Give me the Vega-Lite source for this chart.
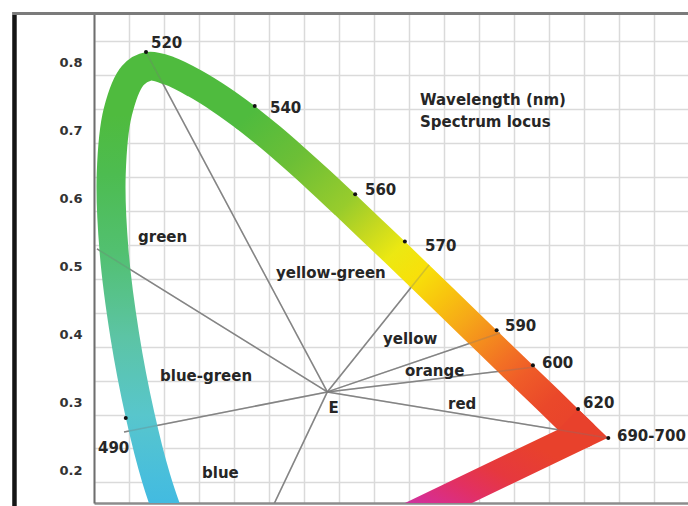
{
  "$schema": "https://vega.github.io/schema/vega-lite/v6.json",
  "width": 596,
  "height": 490,
  "autosize": {"type": "none"},
  "padding": {"left": 94, "top": 13, "right": 0, "bottom": 3},
  "background": "white",
  "config": {"view": {"stroke": null}, "font": "DejaVu Sans"},
  "datasets": {
    "frameTop": [{"x": -0.117, "x2": 0.86, "y": 0.8906}],
    "frameLeft": [{"x": -0.1136, "y": 0.8884, "y2": 0.1594}],
    "rays": [
      {"x": 0.3333, "y": 0.3333, "x2": 0.0743, "y2": 0.8338},
      {"x": 0.3333, "y": 0.3333, "x2": 0.0043, "y2": 0.5440},
      {"x": 0.3333, "y": 0.3333, "x2": 0.0429, "y2": 0.2742},
      {"x": 0.3333, "y": 0.3333, "x2": 0.2327, "y2": 0.1152},
      {"x": 0.3333, "y": 0.3333, "x2": 0.4786, "y2": 0.5202},
      {"x": 0.3333, "y": 0.3333, "x2": 0.5800, "y2": 0.4201},
      {"x": 0.3333, "y": 0.3333, "x2": 0.6300, "y2": 0.3700},
      {"x": 0.3333, "y": 0.3333, "x2": 0.7347, "y2": 0.2653}
    ],
    "bandA": [
      {"o": 1, "x": 0.1287, "y": 0.0948},
      {"o": 2, "x": 0.1109, "y": 0.1396},
      {"o": 3, "x": 0.0886, "y": 0.2068},
      {"o": 4, "x": 0.0657, "y": 0.2996},
      {"o": 5, "x": 0.0440, "y": 0.4161},
      {"o": 6, "x": 0.0287, "y": 0.5402},
      {"o": 7, "x": 0.0246, "y": 0.6542},
      {"o": 8, "x": 0.0340, "y": 0.7455},
      {"o": 9, "x": 0.0554, "y": 0.7993},
      {"o": 10, "x": 0.0780, "y": 0.8128},
      {"o": 11, "x": 0.1076, "y": 0.8060},
      {"o": 12, "x": 0.1447, "y": 0.7872},
      {"o": 13, "x": 0.1813, "y": 0.7638},
      {"o": 14, "x": 0.2167, "y": 0.7377}
    ],
    "bandC": [
      {"o": 1, "x": 0.2167, "y": 0.7377},
      {"o": 2, "x": 0.2524, "y": 0.7081},
      {"o": 3, "x": 0.2879, "y": 0.6763},
      {"o": 4, "x": 0.3234, "y": 0.6432},
      {"o": 5, "x": 0.3590, "y": 0.6088},
      {"o": 6, "x": 0.3944, "y": 0.5741},
      {"o": 7, "x": 0.4299, "y": 0.5392},
      {"o": 8, "x": 0.4644, "y": 0.5049},
      {"o": 9, "x": 0.4981, "y": 0.4713},
      {"o": 10, "x": 0.5304, "y": 0.4390},
      {"o": 11, "x": 0.5607, "y": 0.4088},
      {"o": 12, "x": 0.5884, "y": 0.3811},
      {"o": 13, "x": 0.6126, "y": 0.3571},
      {"o": 14, "x": 0.6514, "y": 0.3187},
      {"o": 15, "x": 0.6771, "y": 0.2929},
      {"o": 16, "x": 0.6984, "y": 0.2717}
    ],
    "bandD": [
      {"o": 1, "x": 0.6771, "y": 0.2929},
      {"o": 2, "x": 0.6984, "y": 0.2717},
      {"o": 3, "x": 0.3896, "y": 0.1190}
    ],
    "dots": [
      {"x": 0.0743, "y": 0.8338},
      {"x": 0.2296, "y": 0.7543},
      {"x": 0.3731, "y": 0.6245},
      {"x": 0.4441, "y": 0.5547},
      {"x": 0.5752, "y": 0.4242},
      {"x": 0.6270, "y": 0.3725},
      {"x": 0.6915, "y": 0.3083},
      {"x": 0.7347, "y": 0.2653},
      {"x": 0.0454, "y": 0.2950}
    ],
    "labels": [
      {"t": "520", "x": 0.0814, "y": 0.8471},
      {"t": "540", "x": 0.2514, "y": 0.7514},
      {"t": "560", "x": 0.3871, "y": 0.6306},
      {"t": "570", "x": 0.4729, "y": 0.5482},
      {"t": "590", "x": 0.5871, "y": 0.4302},
      {"t": "600", "x": 0.6400, "y": 0.3759},
      {"t": "620", "x": 0.6986, "y": 0.3169},
      {"t": "690-700", "x": 0.7471, "y": 0.2683},
      {"t": "490", "x": 0.0057, "y": 0.2507},
      {"t": "green", "x": 0.0629, "y": 0.5614},
      {"t": "yellow-green", "x": 0.2600, "y": 0.5084},
      {"t": "yellow", "x": 0.4129, "y": 0.4112},
      {"t": "orange", "x": 0.4443, "y": 0.3641},
      {"t": "red", "x": 0.5057, "y": 0.3155},
      {"t": "blue-green", "x": 0.0943, "y": 0.3567},
      {"t": "blue", "x": 0.1543, "y": 0.2138},
      {"t": "E", "x": 0.3350, "y": 0.3096},
      {"t": "Wavelength (nm)", "x": 0.4657, "y": 0.7632},
      {"t": "Spectrum locus", "x": 0.4657, "y": 0.7308}
    ]
  },
  "encoding": {
    "x": {
      "field": "x", "type": "quantitative",
      "scale": {"domain": [0, 0.85143], "nice": false, "zero": false},
      "axis": {
        "values": [0, 0.05, 0.1, 0.15, 0.2, 0.25, 0.3, 0.35, 0.4, 0.45, 0.5, 0.55, 0.6, 0.65, 0.7, 0.75, 0.8, 0.85],
        "grid": true, "gridColor": "#dadada", "gridWidth": 1.5,
        "labels": false, "ticks": false, "tickSize": 0,
        "domain": true, "domainColor": "#8c8c8c", "domainWidth": 2.5,
        "title": null
      }
    },
    "y": {
      "field": "y", "type": "quantitative",
      "scale": {"domain": [0.1697, 0.8913], "nice": false, "zero": false},
      "axis": {
        "values": [0.2, 0.25, 0.3, 0.35, 0.4, 0.45, 0.5, 0.55, 0.6, 0.65, 0.7, 0.75, 0.8, 0.85],
        "grid": true, "gridColor": "#dadada", "gridWidth": 1.5,
        "ticks": false, "tickSize": 0,
        "domain": true, "domainColor": "#6e6e6e", "domainWidth": 2,
        "labelExpr": "abs(datum.value * 10 - round(datum.value * 10)) < 0.001 ? format(datum.value, '.1f') : ''",
        "labelOffset": -12, "labelPadding": 12, "labelOverlap": false,
        "labelFont": "DejaVu Sans", "labelFontWeight": "bold", "labelFontSize": 13, "labelColor": "#333333",
        "title": null
      }
    }
  },
  "layer": [
    {
      "data": {"name": "frameTop"},
      "mark": {"type": "rule", "color": "#7b7b7b", "strokeWidth": 3, "clip": false},
      "encoding": {"x2": {"field": "x2"}}
    },
    {
      "data": {"name": "frameLeft"},
      "mark": {"type": "rule", "color": "#151515", "strokeWidth": 4.5, "clip": false},
      "encoding": {"y2": {"field": "y2"}}
    },
    {
      "data": {"name": "rays"},
      "mark": {"type": "rule", "color": "#8a8a8a", "strokeWidth": 1.5, "clip": true},
      "encoding": {"x2": {"field": "x2"}, "y2": {"field": "y2"}}
    },
    {
      "data": {"name": "bandA"},
      "mark": {
        "type": "line", "clip": true, "interpolate": "catmull-rom", "strokeWidth": 29, "strokeCap": "round", "strokeJoin": "round",
        "stroke": {
          "gradient": "linear", "x1": 0, "y1": 1, "x2": 0, "y2": 0,
          "stops": [
            {"offset": 0, "color": "#35b0e8"},
            {"offset": 0.062, "color": "#3eb8e4"},
            {"offset": 0.156, "color": "#48bedc"},
            {"offset": 0.285, "color": "#58c6cc"},
            {"offset": 0.447, "color": "#5cc4a4"},
            {"offset": 0.62, "color": "#52c070"},
            {"offset": 0.779, "color": "#4dbc50"},
            {"offset": 0.9, "color": "#4fbb3e"},
            {"offset": 1, "color": "#4fbb3e"}
          ]
        }
      },
      "encoding": {"order": {"field": "o"}}
    },
    {
      "data": {"name": "bandC"},
      "mark": {
        "type": "line", "clip": true, "interpolate": "catmull-rom", "strokeWidth": 29, "strokeCap": "round", "strokeJoin": "round",
        "stroke": {
          "gradient": "linear", "x1": 0, "y1": 0, "x2": 1, "y2": 1,
          "stops": [
            {"offset": 0, "color": "#4fbb3e"},
            {"offset": 0.14, "color": "#6cbf36"},
            {"offset": 0.286, "color": "#98cc2c"},
            {"offset": 0.36, "color": "#c4d820"},
            {"offset": 0.434, "color": "#ece812"},
            {"offset": 0.507, "color": "#f8e00a"},
            {"offset": 0.578, "color": "#f8c40e"},
            {"offset": 0.646, "color": "#f6a818"},
            {"offset": 0.71, "color": "#f48a1e"},
            {"offset": 0.768, "color": "#f27024"},
            {"offset": 0.819, "color": "#ef5c28"},
            {"offset": 0.901, "color": "#ea482a"},
            {"offset": 1, "color": "#e8412c"}
          ]
        }
      },
      "encoding": {"order": {"field": "o"}}
    },
    {
      "data": {"name": "bandD"},
      "mark": {
        "type": "line", "clip": true, "strokeWidth": 29, "strokeCap": "butt", "strokeJoin": "miter", "strokeMiterLimit": 10,
        "stroke": {
          "gradient": "linear", "x1": 1, "y1": 0, "x2": 0, "y2": 1,
          "stops": [
            {"offset": 0, "color": "#e8412c"},
            {"offset": 0.22, "color": "#e8412c"},
            {"offset": 0.42, "color": "#e6383e"},
            {"offset": 0.56, "color": "#e23062"},
            {"offset": 0.7, "color": "#d82e8e"},
            {"offset": 0.8, "color": "#c43aaa"},
            {"offset": 1, "color": "#a040c0"}
          ]
        }
      },
      "encoding": {"order": {"field": "o"}}
    },
    {
      "data": {"name": "rays"},
      "mark": {"type": "rule", "color": "#777777", "strokeWidth": 1.5, "opacity": 0.3, "clip": true},
      "encoding": {"x2": {"field": "x2"}, "y2": {"field": "y2"}}
    },
    {
      "data": {"name": "dots"},
      "mark": {"type": "point", "filled": true, "size": 16, "color": "#111111", "opacity": 1}
    },
    {
      "data": {"name": "labels"},
      "mark": {"type": "text", "align": "left", "baseline": "middle", "font": "DejaVu Sans", "fontWeight": "bold", "fontSize": 15, "color": "#262626"},
      "encoding": {"text": {"field": "t"}}
    }
  ]
}
